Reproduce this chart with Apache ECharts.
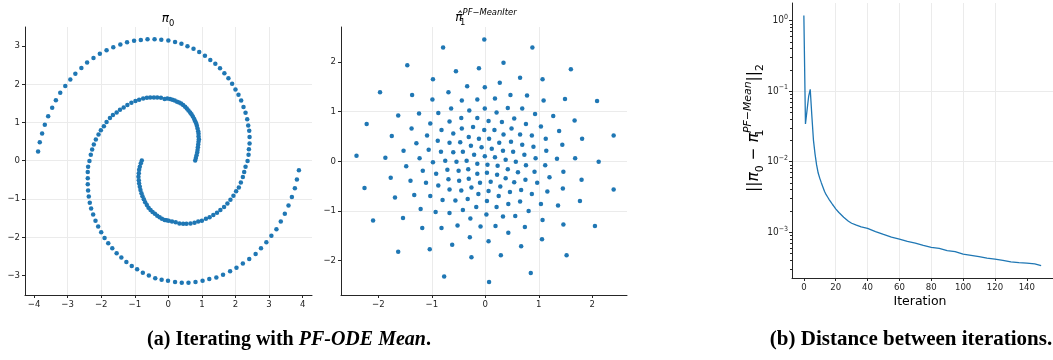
<!DOCTYPE html>
<html>
<head>
<meta charset="utf-8">
<script src="https://cdn.jsdelivr.net/npm/echarts@6/dist/echarts.min.js"></script>
<style>
html, body { margin: 0; padding: 0; background: #fff; }
#chart { width: 1053px; height: 360px; }
</style>
</head>
<body>
<div id="chart"></div>
<script>
// spiral arm starting at (-0.8, 0)
var armA = [
  [-0.79,0.00],[-0.82,-0.07],[-0.85,-0.16],[-0.87,-0.24],[-0.88,-0.33],[-0.89,-0.42],[-0.88,-0.51],[-0.87,-0.60],
  [-0.85,-0.68],[-0.83,-0.77],[-0.80,-0.85],[-0.77,-0.93],[-0.73,-1.01],[-0.69,-1.09],[-0.64,-1.16],[-0.59,-1.23],
  [-0.53,-1.29],[-0.47,-1.34],[-0.40,-1.39],[-0.33,-1.44],[-0.26,-1.48],[-0.19,-1.52],[-0.11,-1.55],[-0.05,-1.56],
  [0.01,-1.57],[0.11,-1.59],[0.22,-1.61],[0.33,-1.64],[0.44,-1.65],[0.54,-1.65],[0.66,-1.64],[0.78,-1.62],
  [0.89,-1.59],[1.00,-1.57],[1.12,-1.52],[1.23,-1.48],[1.34,-1.42],[1.45,-1.36],[1.55,-1.29],[1.66,-1.21],
  [1.76,-1.12],[1.85,-1.02],[1.94,-0.92],[2.02,-0.80],[2.10,-0.70],[2.16,-0.57],[2.22,-0.43],[2.26,-0.30],
  [2.30,-0.16],[2.36,-0.01],[2.39,0.15],[2.40,0.30],[2.42,0.45],[2.42,0.62],[2.41,0.78],[2.38,0.92],
  [2.35,1.08],[2.30,1.25],[2.24,1.40],[2.17,1.57],[2.09,1.72],[2.00,1.86],[1.90,2.01],[1.79,2.15],
  [1.67,2.28],[1.54,2.41],[1.40,2.53],[1.25,2.63],[1.09,2.74],[0.92,2.84],[0.75,2.92],[0.57,2.99],
  [0.39,3.05],[0.20,3.10],[0.00,3.14],[-0.21,3.16],[-0.41,3.17],[-0.62,3.17],[-0.82,3.15],[-1.02,3.13],
  [-1.23,3.09],[-1.43,3.03],[-1.64,2.96],[-1.84,2.88],[-2.04,2.79],[-2.23,2.68],[-2.42,2.56],[-2.59,2.42],
  [-2.77,2.27],[-2.92,2.12],[-3.07,1.95],[-3.22,1.77],[-3.35,1.58],[-3.46,1.38],[-3.58,1.16],[-3.68,0.94],
  [-3.76,0.71],[-3.83,0.48],[-3.88,0.24]
];
// spiral arm starting at (0.8, 0)
var armB = [
  [0.80,0.00],[0.82,0.07],[0.84,0.14],[0.86,0.21],[0.87,0.28],[0.88,0.35],[0.89,0.42],[0.90,0.49],
  [0.91,0.56],[0.90,0.63],[0.90,0.70],[0.89,0.77],[0.87,0.84],[0.85,0.91],[0.83,0.97],[0.80,1.03],
  [0.77,1.09],[0.73,1.15],[0.69,1.21],[0.65,1.26],[0.60,1.31],[0.55,1.36],[0.50,1.41],[0.44,1.45],
  [0.38,1.49],[0.32,1.52],[0.26,1.54],[0.19,1.57],[0.12,1.59],[0.05,1.61],[-0.03,1.62],[-0.11,1.61],
  [-0.22,1.64],[-0.33,1.65],[-0.43,1.65],[-0.54,1.65],[-0.64,1.64],[-0.75,1.62],[-0.87,1.59],[-0.98,1.56],
  [-1.10,1.51],[-1.22,1.45],[-1.33,1.39],[-1.44,1.33],[-1.54,1.26],[-1.65,1.19],[-1.74,1.11],[-1.84,1.01],
  [-1.92,0.90],[-2.01,0.79],[-2.08,0.68],[-2.16,0.55],[-2.22,0.42],[-2.27,0.29],[-2.31,0.15],[-2.35,-0.01],
  [-2.39,-0.16],[-2.40,-0.30],[-2.40,-0.46],[-2.40,-0.62],[-2.39,-0.78],[-2.37,-0.94],[-2.34,-1.10],[-2.30,-1.25],
  [-2.24,-1.41],[-2.17,-1.57],[-2.09,-1.72],[-2.00,-1.87],[-1.90,-2.02],[-1.79,-2.16],[-1.67,-2.29],[-1.54,-2.42],
  [-1.40,-2.53],[-1.25,-2.65],[-1.09,-2.75],[-0.93,-2.84],[-0.76,-2.93],[-0.58,-3.00],[-0.39,-3.07],[-0.20,-3.11],
  [-0.01,-3.14],[0.20,-3.17],[0.40,-3.19],[0.60,-3.19],[0.81,-3.17],[1.02,-3.14],[1.22,-3.09],[1.43,-3.05],
  [1.63,-2.98],[1.84,-2.89],[2.03,-2.80],[2.22,-2.69],[2.41,-2.57],[2.60,-2.44],[2.76,-2.29],[2.92,-2.13],
  [3.07,-1.96],[3.22,-1.79],[3.35,-1.59],[3.47,-1.39],[3.58,-1.17],[3.68,-0.95],[3.77,-0.72],[3.83,-0.49],
  [3.89,-0.25]
];
// samples after PF-ODE mean iteration, left half
var iterLeft = [
  [-0.79,2.29],[-1.46,1.93],[-0.55,1.81],[-0.12,1.87],[-0.98,1.65],[-0.34,1.51],[-1.97,1.39],[-1.37,1.33],
  [-0.69,1.39],[-0.99,1.24],[-0.44,1.22],[-0.15,1.24],[-0.64,1.06],[-1.63,0.92],[-1.24,0.96],[-0.88,0.97],
  [-0.30,1.02],[-2.22,0.75],[-1.03,0.76],[-0.45,0.87],[-0.15,0.87],[-0.67,0.80],[-1.38,0.66],[-0.82,0.63],
  [-0.44,0.66],[-0.23,0.69],[-1.75,0.51],[-1.09,0.52],[-0.60,0.56],[-0.31,0.49],[-0.12,0.45],[-1.29,0.36],
  [-0.89,0.41],[-0.67,0.37],[-0.47,0.38],[-0.27,0.31],[-0.07,0.28],[-1.53,0.21],[-1.06,0.23],[-0.83,0.19],
  [-0.60,0.18],[-0.42,0.19],[-0.21,0.13],[-2.41,0.11],[-1.87,0.07],[-1.23,0.06],[-0.98,-0.02],[-0.75,0.01],
  [-0.54,-0.01],[-0.35,0.01],[-0.15,-0.05],[-1.48,-0.10],[-1.17,-0.19],[-0.71,-0.17],[-0.50,-0.19],[-0.32,-0.16],
  [-0.15,-0.25],[-0.92,-0.25],[-1.77,-0.33],[-1.40,-0.39],[-1.11,-0.43],[-0.69,-0.36],[-0.49,-0.39],[-0.31,-0.35],
  [-0.10,-0.43],[-0.88,-0.49],[-2.26,-0.54],[-0.67,-0.57],[-0.45,-0.59],[-0.26,-0.53],[-0.13,-0.66],[-1.69,-0.73],
  [-1.33,-0.68],[-1.03,-0.70],[-0.80,-0.78],[-0.56,-0.79],[-0.33,-0.76],[-1.21,-0.96],[-0.93,-1.02],[-0.67,-1.04],
  [-0.42,-0.98],[-0.17,-0.92],[-2.10,-1.19],[-1.54,-1.14],[-0.28,-1.15],[-1.18,-1.34],[-0.82,-1.34],[-0.52,-1.29],
  [-0.09,-1.31],[-0.29,-1.53],[-0.62,-1.68],[-1.63,-1.82],[-1.04,-1.77],[-0.26,-1.93],[-0.77,-2.32]
];
// right half
var iterRight = [
  [-0.02,2.45],[0.88,2.29],[0.34,1.98],[1.60,1.85],[0.65,1.68],[1.07,1.65],[-0.01,1.49],[0.27,1.58],
  [0.47,1.33],[0.78,1.32],[0.18,1.26],[1.09,1.22],[1.49,1.25],[2.09,1.21],[-0.01,1.06],[0.42,1.07],
  [0.69,1.06],[0.21,0.98],[0.93,0.95],[1.27,0.91],[0.06,0.81],[0.31,0.79],[0.54,0.86],[1.67,0.82],
  [0.76,0.75],[1.04,0.70],[1.38,0.61],[-0.02,0.63],[0.17,0.63],[0.49,0.66],[0.34,0.54],[0.65,0.54],
  [0.87,0.52],[0.07,0.45],[1.13,0.45],[1.81,0.45],[2.40,0.52],[0.26,0.37],[0.48,0.39],[0.69,0.33],
  [0.90,0.29],[1.44,0.33],[0.12,0.25],[0.33,0.21],[0.52,0.19],[0.73,0.13],[1.14,0.21],[-0.01,0.10],
  [0.18,0.08],[0.38,0.03],[0.57,-0.01],[0.94,0.06],[1.34,0.05],[1.68,0.06],[2.12,-0.01],[0.04,-0.07],
  [0.23,-0.09],[0.42,-0.16],[0.76,-0.08],[1.12,-0.08],[0.03,-0.23],[0.22,-0.27],[0.61,-0.22],[0.92,-0.21],
  [1.46,-0.21],[0.38,-0.34],[0.10,-0.41],[0.54,-0.42],[0.75,-0.37],[0.97,-0.43],[1.20,-0.32],[1.80,-0.37],
  [0.28,-0.51],[0.06,-0.60],[0.46,-0.62],[0.67,-0.58],[0.87,-0.66],[1.16,-0.61],[1.45,-0.55],[2.40,-0.57],
  [0.25,-0.70],[0.03,-0.80],[0.43,-0.86],[0.65,-0.81],[1.04,-0.86],[1.36,-0.89],[1.77,-0.80],[0.21,-0.92],
  [0.81,-1.00],[0.02,-1.07],[0.33,-1.11],[0.56,-1.10],[1.07,-1.18],[1.46,-1.27],[2.05,-1.30],[0.19,-1.30],
  [0.74,-1.32],[0.43,-1.44],[0.06,-1.61],[1.06,-1.57],[0.67,-1.71],[0.29,-1.89],[1.52,-1.89],[0.85,-2.25],
  [0.07,-2.43]
];
// distance between iterations (log scale)
var iterations = [0,1,2,3,4,5,6,7,8,9,10,11,12,13,14,15,16,17,18,19,20,22,25,28,30,33,36,40,45,50,
  55,60,65,70,75,80,85,90,95,100,105,110,115,120,125,130,135,140,145,149];
var distances = [1.18,0.0343,0.0322,0.084,0.106,0.045,0.0204,0.0129,0.0090,0.0069,0.0058,0.0050,0.00435,
  0.00378,0.0034,0.00313,0.00288,0.00267,0.00247,0.00231,0.00214,0.0019,0.00163,0.00143,0.00134,0.00126,
  0.00119,0.00113,0.00102,0.00093,0.00085,0.00080,0.00074,0.00070,0.00065,0.00061,0.00059,0.00055,0.00053,
  0.00049,0.00047,0.00045,0.00043,0.000415,0.00040,0.00038,0.00037,0.000364,0.000356,0.000337];
var ticksSpiralX = [-4,-3,-2,-1,0,1,2,3,4];
var ticksSpiralY = [-3,-2,-1,0,1,2,3];
var ticksIter = [-2,-1,0,1,2];
var ticksStep = [0,20,40,60,80,100,120,140];
var ticksDist = [0.001,0.01,0.1,1];

var blue = '#1f77b4';
var ink = '#262626';
var gridColor = '#ebebeb';
var tickFont = "'DejaVu Sans Condensed', 'DejaVu Sans'";

function minusFmt(v){
    return String(v).replace('-', '\u2212');
}

// 通用数值轴
function valAxis(gridIndex, min, max, splitNumber, ticks){
    return {
        type: 'value',
        gridIndex: gridIndex,
        min: min,
        max: max,
        splitNumber: splitNumber,
        axisLine: { show: true, onZero: false, lineStyle: { color: ink, width: 1 } },
        axisTick: { show: true, length: 3, customValues: ticks, lineStyle: { color: ink } },
        axisLabel: {
            customValues: ticks, color: ink, fontSize: 9.5, fontFamily: tickFont,
            margin: 5, formatter: minusFmt
        },
        splitLine: { show: true, showMinLine: false, showMaxLine: false, lineStyle: { color: gridColor, width: 1 } }
    };
}

var distAxis = {
    type: 'log',
    logBase: 10,
    gridIndex: 2,
    min: Math.pow(10, -3.649),
    max: Math.pow(10, 0.249),
    axisLine: { show: true, onZero: false, lineStyle: { color: ink, width: 1 } },
    axisTick: { show: true, length: 3, customValues: ticksDist, lineStyle: { color: ink } },
    minorTick: { show: true, splitNumber: 9, length: 2, lineStyle: { color: ink } },
    axisLabel: {
        customValues: ticksDist, color: ink, margin: 4,
        formatter: function(v){
            var e = Math.round(Math.log(v) / Math.LN10);
            return '{b|10}{e|' + minusFmt(e) + '}';
        },
        rich: {
            b: { fontSize: 10, fontFamily: tickFont, color: ink, lineHeight: 14 },
            e: { fontSize: 7, fontFamily: tickFont, color: ink, verticalAlign: 'top', lineHeight: 8 }
        }
    },
    splitLine: { show: true, showMinLine: false, showMaxLine: false, lineStyle: { color: gridColor, width: 1 } }
};

function mathRich(size){
    var small = Math.round(size * 0.7 * 10) / 10;
    return {
        m: { fontSize: size, fontFamily: 'DejaVu Sans', fontStyle: 'italic', fill: '#000', lineHeight: size * 1.5, verticalAlign: 'middle' },
        n: { fontSize: size, fontFamily: 'DejaVu Sans', fill: '#000', lineHeight: size * 1.5, verticalAlign: 'middle' },
        s: { fontSize: small, fontFamily: 'DejaVu Sans', fill: '#000', lineHeight: small, verticalAlign: 'bottom' },
        s0: { fontSize: small, fontFamily: 'DejaVu Sans', fill: '#000', lineHeight: small, verticalAlign: 'bottom', width: 0 },
        u: { fontSize: small, fontFamily: 'DejaVu Sans', fontStyle: 'italic', fill: '#000', lineHeight: small, verticalAlign: 'top' }
    };
}

var option = {
    animation: false,
    backgroundColor: '#fff',
    grid: [
        { left: 25, top: 27, width: 287, height: 268 },
        { left: 341, top: 27, width: 286, height: 268 },
        { left: 792, top: 3, width: 265, height: 275 }
    ],
    xAxis: [
        valAxis(0, -4.27, 4.28, 8, ticksSpiralX),
        valAxis(1, -2.70, 2.65, 5, ticksIter),
        valAxis(2, -7.45, 156.45, 8, ticksStep)
    ],
    yAxis: [
        valAxis(0, -3.51, 3.49, 7, ticksSpiralY),
        valAxis(1, -2.69, 2.70, 5, ticksIter),
        distAxis
    ],
    series: [
        { type: 'scatter', xAxisIndex: 0, yAxisIndex: 0, data: armA, symbolSize: 4.5, itemStyle: { color: blue, opacity: 1 } },
        { type: 'scatter', xAxisIndex: 0, yAxisIndex: 0, data: armB, symbolSize: 4.5, itemStyle: { color: blue, opacity: 1 } },
        { type: 'scatter', xAxisIndex: 1, yAxisIndex: 1, data: iterLeft.concat(iterRight), symbolSize: 4.5, itemStyle: { color: blue, opacity: 1 } },
        {
            type: 'line', xAxisIndex: 2, yAxisIndex: 2, showSymbol: false, symbol: 'none',
            data: iterations.map(function(t, i){ return [t, distances[i]]; }),
            lineStyle: { color: blue, width: 1.3 }
        }
    ],
    graphic: [
        { type: 'text', x: 168, y: 19, style: { text: '{m|π}{s|0}', rich: mathRich(12), align: 'center', verticalAlign: 'middle' } },
        { type: 'text', x: 486, y: 18, style: { text: '{m|π\u0302}{s0|1}{u|PF\u2212MeanIter}', rich: mathRich(12), align: 'center', verticalAlign: 'middle' } },
        {
            type: 'text', x: 754, y: 128, rotation: Math.PI / 2,
            style: {
                text: '{n|||}{m|π}{s|0}{n| \u2212 }{m|π}{s0|1}{u|PF\u2212Mean}{n|||}{s|2}',
                rich: mathRich(15.5), align: 'center', verticalAlign: 'middle'
            }
        },
        { type: 'text', x: 920, y: 302, style: { text: 'Iteration', fontSize: 12.5, fontFamily: 'DejaVu Sans', fill: '#000', align: 'center', verticalAlign: 'middle' } },
        {
            type: 'text', x: 289, y: 340,
            style: {
                text: '{b|(a) Iterating with }{bi|PF-ODE Mean}{b|.}',
                align: 'center', verticalAlign: 'middle',
                rich: {
                    b: { fontFamily: 'Liberation Serif', fontWeight: 'bold', fontSize: 20, fill: '#000' },
                    bi: { fontFamily: 'Liberation Serif', fontWeight: 'bold', fontStyle: 'italic', fontSize: 20, fill: '#000' }
                }
            }
        },
        {
            type: 'text', x: 911, y: 340, scaleX: 1.05,
            style: {
                text: '(b) Distance between iterations.',
                fontFamily: 'Liberation Serif', fontWeight: 'bold', fontSize: 20, fill: '#000',
                align: 'center', verticalAlign: 'middle'
            }
        }
    ]
};

var myChart = echarts.init(document.getElementById('chart'));
myChart.setOption(option);
</script>
</body>
</html>
